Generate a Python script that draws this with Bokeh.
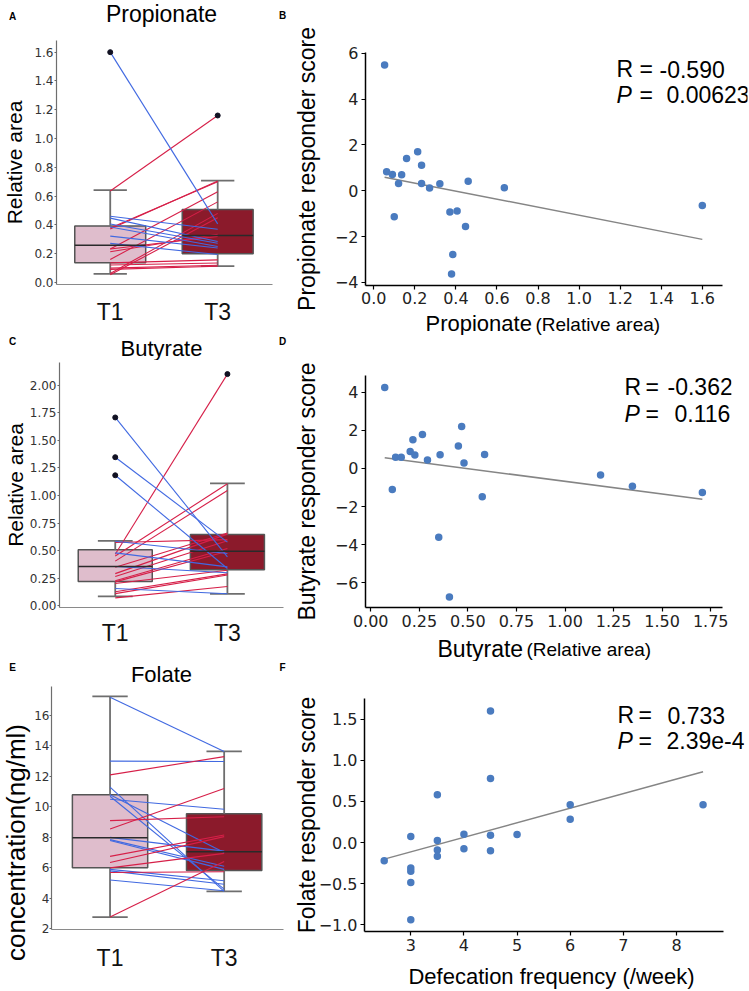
import numpy as np
from bokeh.plotting import figure
from bokeh.layouts import column, row
from bokeh.models import Label, FixedTicker, CustomJSTickFormatter, PrintfTickFormatter, Range1d
from bokeh.embed import file_html
from bokeh.resources import INLINE

# ---------------- data ----------------
groups = ["T1", "T3"]
group_pos = [0, 1]

# Propionate (relative area), paired T1 -> T3, and responder score
prop_t1 = [0.053, 0.063, 0.091, 0.100, 0.121, 0.136, 0.160, 0.214, 0.233, 0.233,
           0.272, 0.322, 0.371, 0.379, 0.385, 0.406, 0.447, 0.460, 0.636, 1.600]
prop_t3 = [0.450, 0.480, 0.113, 0.120, 0.135, 0.157, 0.560, 0.335, 0.630, 0.320,
           0.194, 0.240, 0.705, 0.700, 0.250, 0.273, 0.285, 0.370, 1.160, 0.407]
prop_score = [5.49, 0.83, 0.71, -1.14, 0.32, 0.70, 1.41, 1.70, 1.11, 0.32,
              0.12, 0.31, -0.93, -3.64, -2.79, -0.89, -1.56, 0.42, 0.13, -0.64]
prop_q1 = [0.137, 0.200]
prop_med = [0.258, 0.326]
prop_q3 = [0.393, 0.507]
prop_lo = [0.060, 0.113]
prop_hi = [0.642, 0.708]
prop_out_x = [0, 1]
prop_out_y = [1.600, 1.160]
prop_yticks = [0.0, 0.2, 0.4, 0.6, 0.8, 1.0, 1.2, 1.4, 1.6]
prop_xticks_sc = [0.0, 0.2, 0.4, 0.6, 0.8, 1.0, 1.2, 1.4, 1.6]
prop_score_ticks = [-4, -2, 0, 2, 4, 6]

# Butyrate
but_t1 = [0.072, 0.111, 0.128, 0.157, 0.203, 0.217, 0.227, 0.266, 0.292, 0.350,
          0.357, 0.405, 0.451, 0.468, 0.480, 0.574, 0.586, 1.183, 1.347, 1.707]
but_t3 = [0.175, 0.280, 0.290, 0.109, 0.323, 0.495, 0.520, 0.590, 0.650, 0.660,
          0.300, 1.045, 1.106, 2.100, 0.353, 0.600, 0.474, 0.338, 0.577, 0.444]
but_score = [4.24, -1.10, 0.59, 0.59, 0.89, 1.50, 0.70, 1.78, 0.44, -3.61,
             0.72, -6.74, 1.17, 2.20, 0.28, -1.48, 0.73, -0.35, -0.94, -1.26]
but_q1 = [0.220, 0.326]
but_med = [0.356, 0.495]
but_q3 = [0.508, 0.647]
but_lo = [0.085, 0.109]
but_hi = [0.589, 1.109]
but_out_x = [0, 0, 0, 1]
but_out_y = [1.707, 1.347, 1.183, 2.100]
but_yticks = [0.0, 0.25, 0.5, 0.75, 1.0, 1.25, 1.5, 1.75, 2.0]
but_xticks_sc = [0.0, 0.25, 0.5, 0.75, 1.0, 1.25, 1.5, 1.75]
but_score_ticks = [-6, -4, -2, 0, 2, 4]

# Folate (ng/ml)
fol_t1 = [17.2, 13.0, 12.1, 11.3, 10.8, 10.7, 10.5, 9.1, 8.55, 8.0,
          7.85, 7.8, 6.75, 6.35, 6.0, 5.9, 5.8, 5.69, 5.2, 2.77]
fol_t3 = [13.64, 12.98, 13.3, 4.45, 7.0, 4.6, 9.85, 9.35, 11.2, 7.1,
          6.1, 5.9, 8.15, 8.05, 6.95, 5.15, 4.92, 5.74, 4.5, 6.42]
fol_q1 = [6.00, 5.83]
fol_med = [7.97, 7.05]
fol_q3 = [10.79, 9.55]
fol_lo = [2.77, 4.45]
fol_hi = [17.25, 13.64]
fol_yticks = [2, 4, 6, 8, 10, 12, 14, 16]

# Defecation frequency vs folate responder score
def_freq = [2.5, 3.0, 3.0, 3.0, 3.0, 3.0, 3.5, 3.5, 3.5, 3.5,
            4.0, 4.0, 4.5, 4.5, 4.5, 4.5, 5.0, 6.0, 6.0, 8.5]
fol_score = [-0.22, 0.073, -0.31, -0.35, -0.487, -0.94, 0.58, 0.024, -0.09, -0.166,
             0.10, -0.077, 1.60, 0.78, 0.09, -0.10, 0.097, 0.46, 0.284, 0.46]
freq_ticks = [3, 4, 5, 6, 7, 8]
fol_score_ticks = [-1.0, -0.5, 0.0, 0.5, 1.0, 1.5]

r_values = {"B": "-0.590", "D": "-0.362", "F": "0.733"}
p_values = {"B": "0.00623", "D": "0.116", "F": "2.39e-4"}

# ---------------- styles ----------------
RED = "#d61f48"
BLUE = "#4169e1"
BOX_FILL = ["#dfbdcc", "#8b1a2b"]
DOT = "#4a7bbf"
SANS = "Liberation Sans"
BOX_W = 0.66
CAP_W = 0.31


def make_fig(w, h, left, right, top, bottom, xr, yr):
    p = figure(width=w, height=h, x_range=Range1d(*xr), y_range=Range1d(*yr),
               output_backend="svg", toolbar_location=None,
               min_border_left=left, min_border_right=right,
               min_border_top=top, min_border_bottom=bottom)
    p.grid.visible = False
    p.outline_line_color = None
    p.xaxis.minor_tick_line_color = None
    p.yaxis.minor_tick_line_color = None
    return p


def strip(w, h):
    s = figure(width=w, height=h, x_range=Range1d(0, w), y_range=Range1d(0, h),
               output_backend="svg", toolbar_location=None, min_border=0,
               x_axis_type=None, y_axis_type=None)
    s.outline_line_color = None
    return s


def txt(p, text, x, y, size, angle=0.0, align="center", style="normal",
        font=SANS, color="black"):
    p.add_layout(Label(x=x, y=y, x_units="screen", y_units="screen",
                       text=text, text_font=font, text_font_size=f"{size}px",
                       text_font_style=style, text_align=align, text_baseline="middle",
                       angle=angle, text_color=color))


def box_panel(p, t1, t3, q1, med, q3, lo, hi, out_x, out_y, yticks, fmt,
              x_standoff, ylabel=None, ylabel_standoff=0, ytick_standoff=1):
    p.vbar(x=group_pos, bottom=q1, top=q3, width=BOX_W, fill_color=BOX_FILL,
           line_color="#555555", line_width=1.5)
    p.segment(x0=group_pos, y0=q3, x1=group_pos, y1=hi, line_color="#6e6e6e", line_width=1.8)
    p.segment(x0=group_pos, y0=lo, x1=group_pos, y1=q1, line_color="#6e6e6e", line_width=1.8)
    capl = [g - CAP_W / 2 for g in group_pos]
    capr = [g + CAP_W / 2 for g in group_pos]
    p.segment(x0=capl, y0=hi, x1=capr, y1=hi, line_color="#6e6e6e", line_width=1.8)
    p.segment(x0=capl, y0=lo, x1=capr, y1=lo, line_color="#6e6e6e", line_width=1.8)
    cols = [RED if b > a else BLUE for a, b in zip(t1, t3)]
    p.segment(x0=[group_pos[0]] * len(t1), y0=t1, x1=[group_pos[1]] * len(t3), y1=t3,
              line_color=cols, line_width=1.1)
    medl = [g - BOX_W / 2 for g in group_pos]
    medr = [g + BOX_W / 2 for g in group_pos]
    p.segment(x0=medl, y0=med, x1=medr, y1=med, line_color="#2a2a2a", line_width=1.5)
    if out_x:
        p.scatter(x=out_x, y=out_y, size=5, color="#111122")
    xa = p.xaxis[0]
    xa.ticker = FixedTicker(ticks=group_pos)
    xa.major_label_overrides = {g: lab for g, lab in zip(group_pos, groups)}
    xa.major_label_text_font = SANS
    xa.major_label_text_font_size = "23px"
    xa.major_label_text_color = "#111111"
    xa.major_tick_line_color = None
    xa.major_tick_out = 0
    xa.major_tick_in = 0
    xa.major_label_standoff = x_standoff
    xa.axis_line_color = "#8a8a8a"
    xa.axis_line_width = 1.2
    ya = p.yaxis[0]
    ya.ticker = FixedTicker(ticks=yticks)
    ya.formatter = PrintfTickFormatter(format=fmt)
    ya.major_label_text_font = "DejaVu Sans"
    ya.major_label_text_font_size = "12px"
    ya.major_label_text_color = "#333333"
    ya.major_tick_out = 2
    ya.major_tick_in = 0
    ya.major_tick_line_color = "#666666"
    ya.major_label_standoff = ytick_standoff
    ya.axis_line_color = "#6e6e6e"
    ya.axis_line_width = 1.2
    if ylabel:
        ya.axis_label = ylabel
        ya.axis_label_text_font = SANS
        ya.axis_label_text_font_size = "21px"
        ya.axis_label_text_font_style = "normal"
        ya.axis_label_text_color = "black"
        ya.axis_label_standoff = ylabel_standoff


def js_fmt(d):
    return CustomJSTickFormatter(
        code="return (tick < -1e-9 ? '\\u2212' : '') + Math.abs(tick).toFixed(%d);" % d)


def scatter_panel(p, x, y, xticks, yticks, xd, yd, xbounds, ylabel, ylabel_standoff, x_standoff):
    xa_, ya_ = np.array(x, dtype=float), np.array(y, dtype=float)
    k, b = np.polyfit(xa_, ya_, 1)
    xs = np.array([xa_.min(), xa_.max()])
    p.line(xs, k * xs + b, line_color="#858585", line_width=1.5)
    p.scatter(x, y, size=7.5, fill_color=DOT, line_color=None)
    for ax, tk, d in ((p.xaxis[0], xticks, xd), (p.yaxis[0], yticks, yd)):
        ax.ticker = FixedTicker(ticks=tk)
        ax.formatter = js_fmt(d)
        ax.axis_line_color = "black"
        ax.axis_line_width = 1.5
        ax.major_tick_line_color = "black"
        ax.major_tick_line_width = 1.2
        ax.major_tick_out = 4
        ax.major_tick_in = 0
        ax.major_label_text_font = "DejaVu Sans"
        ax.major_label_text_font_size = "16px"
        ax.major_label_text_color = "#222222"
    p.xaxis[0].major_label_standoff = x_standoff
    p.xaxis[0].bounds = xbounds
    p.yaxis[0].major_label_standoff = 3
    ya = p.yaxis[0]
    ya.axis_label = ylabel
    ya.axis_label_text_font = SANS
    ya.axis_label_text_font_size = "23px"
    ya.axis_label_text_font_style = "normal"
    ya.axis_label_text_color = "black"
    ya.axis_label_standoff = ylabel_standoff


def stats(p, key, fl, fb, sx, sx_eq, sx_r, sx_p, cy_r, cy_p):
    # page-pixel positions (cap centres) converted to frame-relative screen units
    txt(p, "R", sx - fl, fb - cy_r, 23, align="left")
    txt(p, "=", sx_eq - fl, fb - cy_r, 23, align="left")
    txt(p, r_values[key], sx_r - fl, fb - cy_r, 23, align="left")
    txt(p, "P", sx - fl, fb - cy_p, 23, align="left", style="italic")
    txt(p, "=", sx_eq - fl, fb - cy_p, 23, align="left")
    txt(p, p_values[key], sx_p - fl, fb - cy_p, 23, align="left")


# ---------------- strip 1 (titles row 1), page y 0..28 ----------------
s1 = strip(749, 28)
txt(s1, "A", 12, 12, 10, style="bold")
txt(s1, "Propionate", 161, 15, 23)
txt(s1, "B", 282, 13, 10, style="bold")

# ---------------- row 1, page y 28..335 ----------------
pA = make_fig(290, 307, 51, 18, 12, 51, (-0.5, 1.51), (-0.014, 1.681))
box_panel(pA, prop_t1, prop_t3, prop_q1, prop_med, prop_q3, prop_lo, prop_hi,
          prop_out_x, prop_out_y, prop_yticks, "%.1f", 14, "Relative area", 5)

pB = make_fig(459, 282, 74, 2, 24, 25, (-0.04, 1.82), (-4.14, 6.04))
scatter_panel(pB, prop_t1, prop_score, prop_xticks_sc, prop_score_ticks, 1, 0,
              (-0.04, 1.699), "Propionate responder score", 12, 2)
stats(pB, "B", 364, 285, 615, 638, 658, 665, 68.5, 94)

bx = strip(459, 25)   # page y 310..335
txt(bx, "Propionate", 135, 12.5, 22, align="left")
txt(bx, "(Relative area)", 245, 11.4, 19, align="left")

# ---------------- strip 2, page y 335..360 ----------------
s2 = strip(749, 25)
txt(s2, "C", 12, 19, 10, style="bold")
txt(s2, "Butyrate", 161, 12.5, 22)
txt(s2, "D", 282, 19, 10, style="bold")

# ---------------- row 2, page y 360..661 ----------------
pC = make_fig(290, 301, 54, 7, 2, 54, (-0.497, 1.5), (-0.015, 2.205))
box_panel(pC, but_t1, but_t3, but_q1, but_med, but_q3, but_lo, but_hi,
          but_out_x, but_out_y, but_yticks, "%.2f", 12, "Relative area", 0)

pD = make_fig(459, 275, 73, 18, 15, 28, (-0.027, 1.857), (-7.29, 4.87))
scatter_panel(pD, but_t1, but_score, but_xticks_sc, but_score_ticks, 2, 0,
              (-0.027, 1.811), "Butyrate responder score", 12, 3)
stats(pD, "D", 363, 607, 622, 643, 665, 672, 386, 413)

dx = strip(459, 26)   # page y 635..661
txt(dx, "Butyrate", 147, 13, 23, align="left")
txt(dx, "(Relative area)", 236, 12, 19, align="left")

# ---------------- strip 3, page y 661..686 ----------------
s3 = strip(749, 25)
txt(s3, "E", 12, 19, 10, style="bold")
txt(s3, "Folate", 161, 12.5, 22)
txt(s3, "F", 282, 19, 10, style="bold")

# ---------------- row 3, page y 686..991 ----------------
ylE = strip(31, 305)
txt(ylE, "concentration(ng/ml)", 15, 149, 26, angle=np.pi / 2)

pE = make_fig(259, 305, 18, 7, 0, 62, (-0.513, 1.52), (1.954, 17.90))
box_panel(pE, fol_t1, fol_t3, fol_q1, fol_med, fol_q3, fol_lo, fol_hi,
          [], [], fol_yticks, "%d", 15, ytick_standoff=0)

pF = make_fig(459, 272, 74, 5, 12, 27, (2.129, 9.28), (-1.082, 1.752))
scatter_panel(pF, def_freq, fol_score, freq_ticks, fol_score_ticks, 0, 1,
              (2.129, 8.884), "Folate responder score", -4, 3)
stats(pF, "F", 364, 931, 617, 638, 667, 666, 714.5, 740)

fx = strip(459, 33)   # page y 958..991
txt(fx, "Defecation frequency (/week)", 261, 15.5, 22)

layout = column(
    s1,
    row(column(pA), column(pB, row(bx))),
    s2,
    row(column(pC), column(pD, row(dx))),
    s3,
    row(row(ylE), column(pE), column(pF, row(fx))),
)
open("out.html", "w").write(file_html(layout, INLINE))
